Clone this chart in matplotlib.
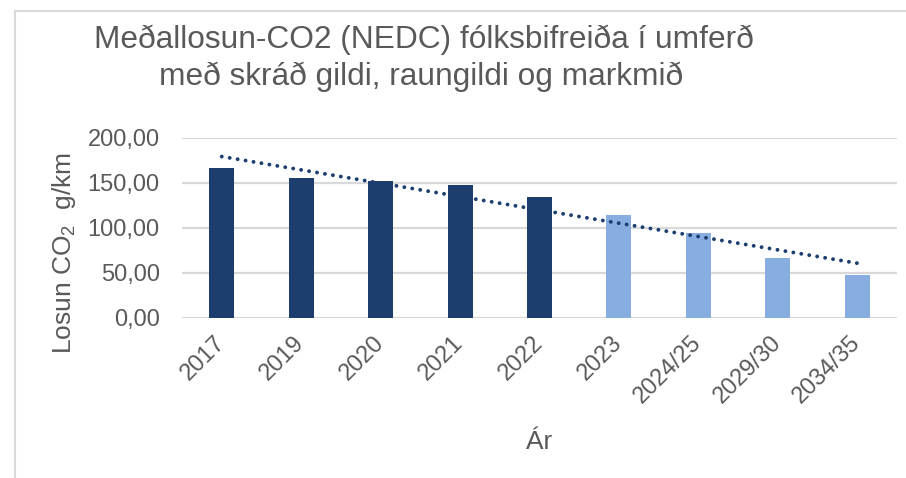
import numpy as np
import matplotlib
matplotlib.use("Agg")
import matplotlib.pyplot as plt
from matplotlib.lines import Line2D

# Gögn lesin af myndinni
ar = ["2017", "2019", "2020", "2021", "2022", "2023", "2024/25", "2029/30", "2034/35"]
losun = [165.6, 155.2, 152.2, 147.4, 133.8, 114.4, 94.0, 66.3, 47.4]
raungildi = [True, True, True, True, True, False, False, False, False]

DOKKBLAR = "#1C3D6E"
LJOSBLAR = "#88ADE1"
GRAR_TEXTI = "#595959"
GRID = "#D9D9D9"

plt.rcParams["font.family"] = ["Liberation Sans", "DejaVu Sans"]
plt.rcParams["mathtext.default"] = "regular"

fig = plt.figure(figsize=(9.06, 4.78), dpi=100)
ax = fig.add_axes([182 / 906, 1 - 317.5 / 478, (897 - 182) / 906, 180 / 478])

x = np.arange(len(ar))
litir = [DOKKBLAR if r else LJOSBLAR for r in raungildi]
ax.bar(x, losun, width=0.315, color=litir, zorder=3)

# línuleg leitni yfir öll gildin
k = np.polyfit(x, losun, 1)
ax.plot(x[[0, -1]], np.polyval(k, x[[0, -1]]), color=DOKKBLAR, lw=2.8,
        linestyle=(0, (0.01, 2.06)), dash_capstyle="round", zorder=4)

ax.set_xlim(-0.5, len(ar) - 0.5)
ax.set_ylim(0, 200)
ax.set_yticks([0, 50, 100, 150, 200])
ax.set_yticklabels([f"{v:.2f}".replace(".", ",") for v in [0, 50, 100, 150, 200]])
ax.set_xticks(x)
ax.set_xticklabels(ar, rotation=45, ha="right", va="center", rotation_mode="anchor")

ax.grid(axis="y", color=GRID, lw=1.6, zorder=0)
for s in ax.spines.values():
    s.set_visible(False)
ax.tick_params(axis="both", length=0, labelsize=17, labelcolor=GRAR_TEXTI)
ax.tick_params(axis="y", pad=16)
ax.tick_params(axis="x", pad=16)

ax.set_xlabel("Ár", fontsize=19, color=GRAR_TEXTI, labelpad=16)

fig.text(64 / 906, 1 - 253 / 478, "Losun CO$_2$  g/km", rotation=90,
         ha="center", va="center", fontsize=19, color=GRAR_TEXTI)

fig.text(424 / 906, 1 - 48.3 / 478, "Meðallosun-CO2 (NEDC) fólksbifreiða í umferð",
         ha="center", va="baseline", fontsize=22.8, color=GRAR_TEXTI)
fig.text(421 / 906, 1 - 85 / 478, "með skráð gildi, raungildi og markmið",
         ha="center", va="baseline", fontsize=22.8, color=GRAR_TEXTI)

# rammi utan um myndina
fig.add_artist(Line2D([15 / 906, 15 / 906], [0, 1 - 11 / 478], transform=fig.transFigure, color=GRID, lw=1.5))
fig.add_artist(Line2D([15 / 906, 1], [1 - 11 / 478, 1 - 11 / 478], transform=fig.transFigure, color=GRID, lw=1.5))

fig.savefig("out.png", dpi=100)
